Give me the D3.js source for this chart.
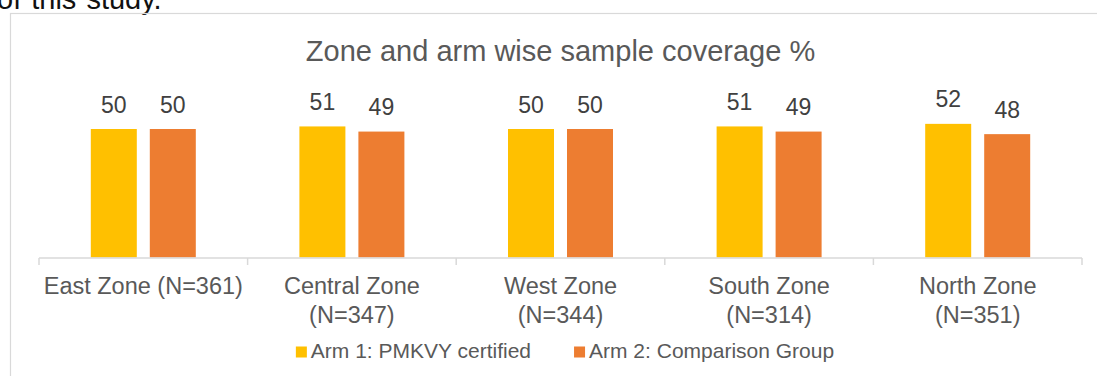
<!DOCTYPE html>
<html>
<head>
<meta charset="utf-8">
<script src="https://cdn.jsdelivr.net/npm/d3@7"></script>
<style>
  html, body { margin: 0; padding: 0; background: #fff; overflow: hidden; }
  svg { display: block; font-family: "Liberation Sans", Arial, sans-serif; }
</style>
</head>
<body>
<svg id="chart" width="1097" height="376"></svg>
<script>
// Zone-wise sample split between the two study arms (%)
const zones = ["East Zone", "Central Zone", "West Zone", "South Zone", "North Zone"];
const sampleN = [361, 347, 344, 314, 351];
const seriesNames = ["Arm 1: PMKVY certified", "Arm 2: Comparison Group"];
const arm1 = [50, 51, 50, 51, 52];
const arm2 = [50, 49, 50, 49, 48];
const colors = ["#FFC000", "#ED7D31"];
const chartTitle = "Zone and arm wise sample coverage %";

const categories = zones.map((z, i) => `${z} (N=${sampleN[i]})`);
const rows = categories.map((c, i) => ({ category: c, values: [arm1[i], arm2[i]] }));

const svg = d3.select("#chart");

// trailing line of the surrounding document text
svg.append("text")
  .attr("x", -3).attr("y", 8.5)
  .attr("font-size", 29).attr("fill", "#111")
  .attr("word-spacing", 2)
  .text("of this study.");

// chart area frame
svg.append("rect")
  .attr("x", 10.5).attr("y", 13.5)
  .attr("width", 1200).attr("height", 500)
  .attr("fill", "none").attr("stroke", "#d9d9d9").attr("stroke-width", 1.2);

const plot = { left: 39, right: 1082, baseline: 257.5 };

const x0 = d3.scaleBand()
  .domain(categories)
  .range([plot.left, plot.right])
  .paddingInner(0).paddingOuter(0);

const groupW = 105;
const outer = (x0.bandwidth() - groupW) / 2;
const x1 = d3.scaleBand()
  .domain(d3.range(seriesNames.length))
  .range([outer, outer + groupW])
  .paddingInner(13 / 59).paddingOuter(0);

const y = d3.scaleLinear()
  .domain([0, 60])
  .range([plot.baseline, plot.baseline - 154.2]);

// title
svg.append("text")
  .attr("x", (plot.left + plot.right) / 2)
  .attr("y", 61)
  .attr("text-anchor", "middle")
  .attr("font-size", 29)
  .attr("fill", "#595959")
  .text(chartTitle);

// bars
const groups = svg.append("g")
  .selectAll("g")
  .data(rows)
  .join("g")
  .attr("transform", d => `translate(${x0(d.category)},0)`);

groups.selectAll("rect")
  .data(d => d.values.map((v, k) => ({ v, k })))
  .join("rect")
  .attr("x", d => x1(d.k))
  .attr("y", d => y(d.v))
  .attr("width", x1.bandwidth())
  .attr("height", d => y(0) - y(d.v))
  .attr("fill", d => colors[d.k]);

// value labels
groups.selectAll("text.val")
  .data(d => d.values.map((v, k) => ({ v, k })))
  .join("text")
  .attr("class", "val")
  .attr("x", d => x1(d.k) + x1.bandwidth() / 2)
  .attr("y", d => y(d.v) - 16.5)
  .attr("text-anchor", "middle")
  .attr("font-size", 23)
  .attr("fill", "#404040")
  .text(d => d.v);

// category axis
const xAxis = d3.axisBottom(x0).tickSize(0).tickPadding(0);
const axisG = svg.append("g")
  .attr("transform", `translate(0,${plot.baseline})`)
  .call(xAxis);
axisG.select(".domain").remove();
axisG.selectAll(".tick line").remove();

axisG.append("line")
  .attr("x1", plot.left).attr("x2", plot.right)
  .attr("y1", 0.5).attr("y2", 0.5)
  .attr("stroke", "#d9d9d9").attr("stroke-width", 1.5);

const boundaries = categories.map(c => x0(c)).concat([plot.right]);
axisG.selectAll("line.sep")
  .data(boundaries)
  .join("line")
  .attr("class", "sep")
  .attr("x1", d => d).attr("x2", d => d)
  .attr("y1", 0.5).attr("y2", 7.5)
  .attr("stroke", "#d9d9d9").attr("stroke-width", 1.5);

// category labels, wrapped to the label width available per band
const labelMaxW = x0.bandwidth() - 6;
axisG.selectAll(".tick text")
  .attr("font-size", 23.5)
  .attr("font-family", null)
  .attr("fill", "#595959")
  .attr("dy", null)
  .attr("y", 36.5)
  .each(function () {
    const t = d3.select(this);
    const words = t.text().split(/\s+/);
    t.text(null);
    let line = [];
    let tspan = t.append("tspan").attr("x", 0).attr("dy", 0);
    for (const w of words) {
      line.push(w);
      tspan.text(line.join(" "));
      if (tspan.node().getComputedTextLength() > labelMaxW && line.length > 1) {
        line.pop();
        tspan.text(line.join(" "));
        line = [w];
        tspan = t.append("tspan").attr("x", 0).attr("dy", 28.5).text(w);
      }
    }
  });
axisG.attr("font-family", null).attr("font-size", null);

// legend
const legend = svg.append("g").attr("font-size", 21).attr("fill", "#595959");
const items = legend.selectAll("g")
  .data(seriesNames)
  .join("g");
items.append("rect")
  .attr("width", 11).attr("height", 11)
  .attr("y", -11)
  .attr("fill", (d, i) => colors[i]);
items.append("text")
  .attr("x", 15)
  .attr("y", 0)
  .text(d => d);

const itemGap = 43;
let widths = [];
items.each(function () { widths.push(this.getBBox().width); });
const totalW = d3.sum(widths) + itemGap * (widths.length - 1);
let cx = 565 - totalW / 2;
items.attr("transform", (d, i) => {
  const tx = cx;
  cx += widths[i] + itemGap;
  return `translate(${tx},357.5)`;
});
</script>
</body>
</html>
